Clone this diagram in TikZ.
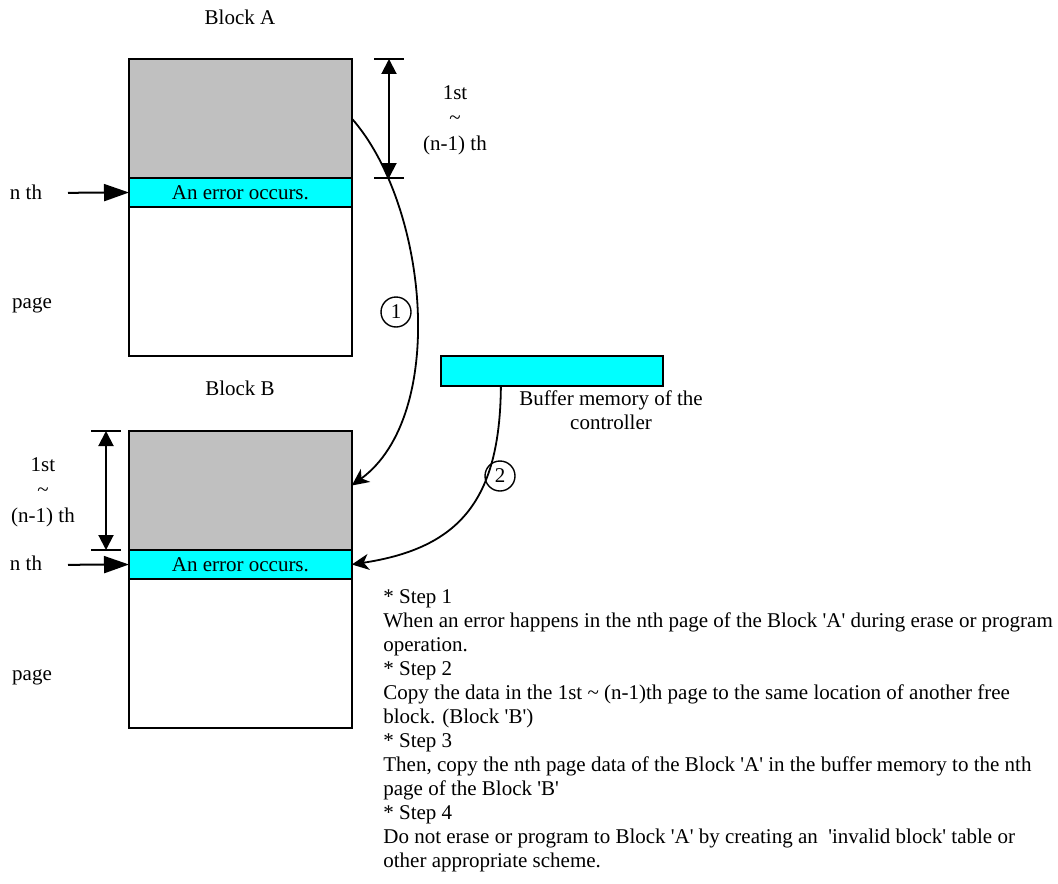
\documentclass[tikz,border=0pt]{standalone}
\usepackage{fontspec}
\setmainfont{Liberation Serif}
\usetikzlibrary{positioning,arrows.meta}

\definecolor{errcyan}{RGB}{0,255,255}
\definecolor{usedgray}{RGB}{192,192,192}
\newcommand{\apos}{\textquotesingle}

\tikzset{
  page/.style={draw, line width=1pt, outer sep=0pt, inner sep=0pt,
    minimum width=111.4pt, font=\fontsize{10.5}{12}\selectfont},
  good/.style={page, fill=usedgray, minimum height=59.5pt},
  bad/.style={page, fill=errcyan, minimum height=14.5pt},
  free/.style={page, fill=white, minimum height=74.4pt},
  lbl/.style={inner sep=0pt, align=center, font=\fontsize{10.5}{12.75}\selectfont},
  stepline/.style={inner sep=0pt, font=\fontsize{10.5}{12}\selectfont},
  num/.style={draw, circle, line width=0.7pt, minimum size=15pt, inner sep=0pt,
    font=\fontsize{10.5}{12}\selectfont},
  arr/.style={line width=0.9pt, -{Stealth[length=8.5pt,width=8pt,inset=2.5pt]}},
  pointer/.style={line width=1pt, -{Triangle[length=12.5pt,width=8.5pt]}},
  dim/.style={line width=1pt, {Triangle[length=7.5pt,width=7.5pt]}-{Triangle[length=7.5pt,width=7.5pt]}},
  tick/.style={line width=1pt}
}

\begin{document}
\begin{tikzpicture}[x=0.5pt,y=-0.5pt]
  \useasboundingbox (0,0) rectangle (1058,883);

  % Block A
  \node[lbl, anchor=base] (tA) at (240,25) {Block A};
  \node[good, anchor=north west] (gA) at (129,59) {};
  \node[bad, below=0pt of gA] (eA) {An error occurs.};
  \node[free, below=0pt of eA] (fA) {};

  \coordinate (dAt) at (389,59);
  \coordinate (dAb) at (389,178);
  \coordinate (kAt1) at (374,59);
  \coordinate (kAt2) at (404,59);
  \coordinate (kAb1) at (374,178);
  \coordinate (kAb2) at (404,178);
  \draw[tick] (kAt1) -- (kAt2);
  \draw[tick] (kAb1) -- (kAb2);
  \draw[dim] (dAt) -- (dAb);
  \node[lbl, anchor=base] (rA) at (455,150) {1st\\\textasciitilde\\(n-1) th};

  \node[lbl, anchor=base] (nA) at (26,199) {n th};
  \node[lbl, anchor=base] (pgA) at (32,308) {page};
  \coordinate (pA) at (68,192.8);
  \draw[pointer] (pA) -- (eA.west);

  % Block B
  \node[lbl, anchor=base] (tB) at (240,395) {Block B};
  \node[good, anchor=north west] (gB) at (129,431) {};
  \node[bad, below=0pt of gB] (eB) {An error occurs.};
  \node[free, below=0pt of eB] (fB) {};

  \coordinate (dBt) at (106,431);
  \coordinate (dBb) at (106,550);
  \coordinate (kBt1) at (91,431);
  \coordinate (kBt2) at (121,431);
  \coordinate (kBb1) at (91,550);
  \coordinate (kBb2) at (121,550);
  \draw[tick] (kBt1) -- (kBt2);
  \draw[tick] (kBb1) -- (kBb2);
  \draw[dim] (dBt) -- (dBb);
  \node[lbl, anchor=base] (rB) at (43,522) {1st\\\textasciitilde\\(n-1) th};

  \node[lbl, anchor=base] (nB) at (26,570) {n th};
  \node[lbl, anchor=base] (pgB) at (32,680) {page};
  \coordinate (pB) at (68,564.8);
  \draw[pointer] (pB) -- (eB.west);

  % buffer
  \node[page, fill=errcyan, minimum height=14.9pt, anchor=north west] (buf) at (440.5,356) {};
  \node[lbl, anchor=base, font=\fontsize{10.5}{12}\selectfont] (bufL) at (611,429)
    {Buffer memory of the\\controller};

  % copy steps
  \node[num] (c1) at (396,312) {1};
  \draw[arr] (gA.east) .. controls (428,205) and (448,415) .. ([yshift=2.5pt]gB.east);
  \node[num] (c2) at (500,476) {2};
  \draw[arr] ([xshift=-25.5pt]buf.south) .. controls (500,500) and (460,548) .. (eB.east);

  % notes
  \foreach \t [count=\i] in {%
      * Step 1,
      When an error happens in the nth page of the Block \apos A\apos\ during erase or program,
      operation.,
      * Step 2,
      Copy the data in the 1st \textasciitilde\ (n-1)th page to the same location of another free,
      block. (Block \apos B\apos),
      * Step 3,
      {Then, copy the nth page data of the Block \apos A\apos\ in the buffer memory to the nth},
      page of the Block \apos B\apos,
      * Step 4,
      Do not erase or program to Block \apos A\apos\ by creating an \ \apos invalid block\apos\ table or,
      other appropriate scheme.}
    \node[stepline, anchor=base west] (s\i) at (383,579+24*\i) {\t};
\end{tikzpicture}
\end{document}
